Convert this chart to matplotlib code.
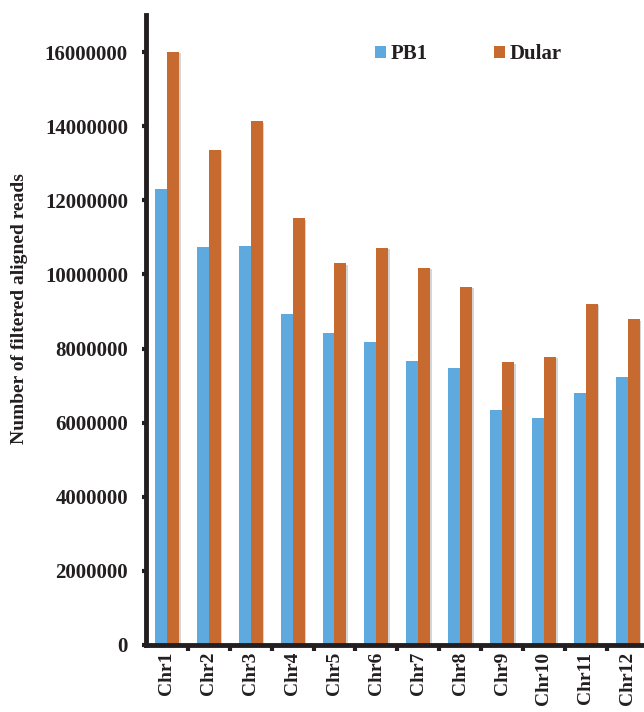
import matplotlib
matplotlib.use('Agg')
import matplotlib.pyplot as plt
import matplotlib.patheffects as pe
from matplotlib.patches import Patch
import numpy as np

# Data
chromosomes = ['Chr1', 'Chr2', 'Chr3', 'Chr4', 'Chr5', 'Chr6',
               'Chr7', 'Chr8', 'Chr9', 'Chr10', 'Chr11', 'Chr12']
pb1 = [12300000, 10730000, 10770000, 8930000, 8420000, 8180000,
       7660000, 7480000, 6340000, 6130000, 6800000, 7230000]
dular = [16010000, 13370000, 14130000, 11510000, 10300000, 10720000,
         10180000, 9660000, 7630000, 7770000, 9200000, 8790000]
yticks = [0, 2000000, 4000000, 6000000, 8000000, 10000000,
          12000000, 14000000, 16000000]

BLUE = '#5EA9DD'
ORANGE = '#C76A30'
DARK = '#231F20'

plt.rcParams['font.family'] = ['Liberation Serif', 'DejaVu Serif']
plt.rcParams['font.weight'] = 'bold'

W, H = 644, 712
fig = plt.figure(figsize=(W / 100, H / 100), dpi=100)
ax = fig.add_axes([146 / W, 67 / H, 1 - 146 / W, (645 - 15) / H])

x = np.arange(len(chromosomes))
bw = 0.285
shadow = [pe.SimplePatchShadow(offset=(1.2, -1.0), shadow_rgbFace='#888888', alpha=0.35), pe.Normal()]
b1 = ax.bar(x - bw / 2, pb1, bw, color=BLUE, linewidth=0, zorder=2)
b2 = ax.bar(x + bw / 2, dular, bw, color=ORANGE, linewidth=0, zorder=2)
for b in list(b1) + list(b2):
    b.set_path_effects(shadow)

ax.set_xlim(-0.5, 11.39)
ax.set_ylim(0, 17000000)

for s in ['top', 'right']:
    ax.spines[s].set_visible(False)
for s in ['left', 'bottom']:
    ax.spines[s].set_color(DARK)
    ax.spines[s].set_linewidth(3.5)
    ax.spines[s].set_capstyle('projecting')

ax.set_yticks(yticks)
ax.set_yticklabels([str(v) for v in yticks])
ax.tick_params(axis='y', direction='out', length=3, width=3, color=DARK,
               labelsize=15, labelcolor=DARK, pad=10)

ax.set_xticks(x)
ax.set_xticklabels(chromosomes, rotation=90, fontsize=14, color=DARK)
ax.set_xticks(np.arange(0.5, 11.5, 1), minor=True)
ax.tick_params(axis='x', which='major', length=0, pad=5)
ax.tick_params(axis='x', which='minor', direction='out', length=4, width=3, color=DARK)

fig.text(20 / W, 1 - 309 / H, 'Number of filtered aligned reads', rotation=90,
         ha='center', va='center', fontsize=14, fontweight='bold', color=DARK)

handles = [Patch(facecolor=BLUE, label='PB1'), Patch(facecolor=ORANGE, label='Dular')]
ax.legend(handles=handles, loc='upper left', bbox_to_anchor=(365 / W, 1 - 34 / H),
          bbox_transform=fig.transFigure, ncol=2, frameon=False, borderpad=0,
          handlelength=0.52, handleheight=0.52, handletextpad=0.2,
          columnspacing=3.2, prop={'size': 15, 'weight': 'bold'},
          labelcolor=DARK)

fig.savefig('out.png', dpi=100, facecolor='white')
